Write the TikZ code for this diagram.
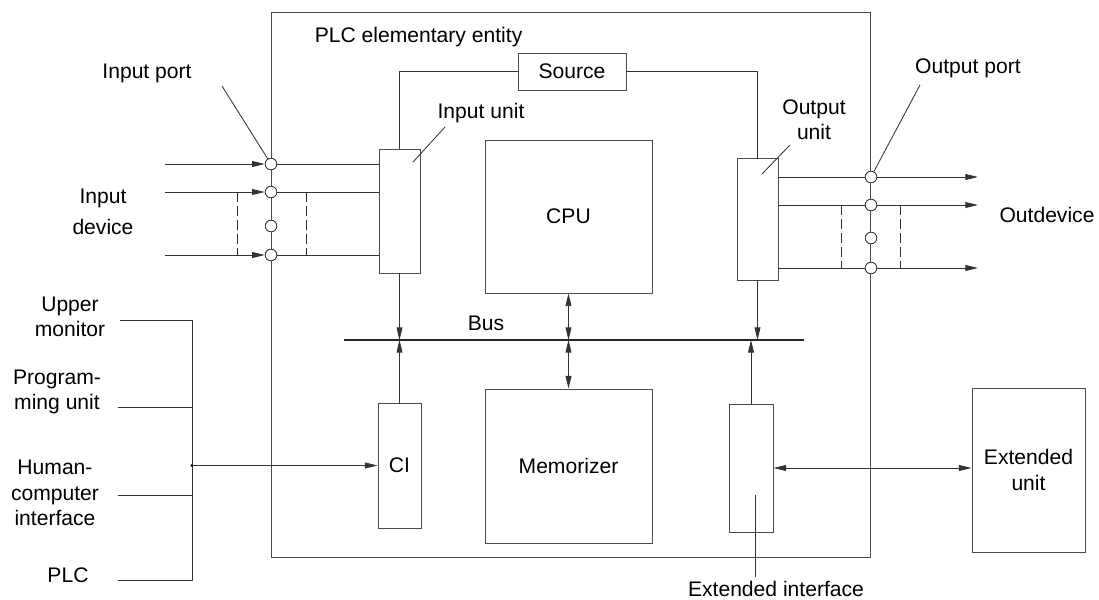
\documentclass[tikz,border=0pt]{standalone}
\usepackage{fontspec}
\setmainfont{Liberation Sans}
\usetikzlibrary{arrows.meta,positioning}

\begin{document}
\begin{tikzpicture}[x=0.025cm,y=-0.025cm,>={Triangle[length=9pt,width=4.2pt]},
line width=0.6pt,draw=black!80,
font=\fontsize{15}{18}\selectfont,
box/.style 2 args={draw=black!70,inner sep=0pt,minimum width=#1,minimum height=#2},
port/.style={circle,draw=black!80,fill=white,inner sep=0pt,minimum width=0.29cm,minimum height=0.26cm},
lbl/.style={align=center,inner sep=1pt},
guide/.style={dashed,dash pattern=on 7pt off 3pt}]
\useasboundingbox (0,0) rectangle (1099,599);

% PLC elementary entity
\node[box={14.975cm}{13.625cm}] (plc) at (570.5,284.5) {};
\node[lbl,anchor=west] (plcl) at (313,37) {PLC elementary entity};

% units inside
\node[box={2.7cm}{0.925cm}] (src) at (572,71.5) {Source};
\node[box={1.025cm}{3.1cm}] (iu) at (399.5,211) {};
\node[box={1.025cm}{3.05cm}] (ou) at (757.5,219) {};
\node[box={4.175cm}{3.825cm}] (cpu) at (568.5,216.5) {CPU};
\node[box={4.175cm}{3.85cm}] (mem) at (568.5,466) {Memorizer};
\node[box={1.075cm}{3.125cm}] (ci) at (399.5,465.5) {CI};
\node[box={1.1cm}{3.2cm}] (ei) at (751,468) {};
\node[box={2.825cm}{4.1cm},align=center] (eu) at (1028.5,470) {Extended\\unit};

% power supply
\draw (iu.north) |- (src.west);
\draw (src.east) -| (ou.north);

% bus
\coordinate (busl) at (344,340);
\coordinate (busr) at (804,340);
\draw[line width=1.4pt,black!85] (busl) -- (busr);
\node[lbl] (bus) at (486,323) {Bus};
\draw[->] (iu.south) -- (iu.south |- busl);
\draw[->] (ci.north) -- (ci.north |- busl);
\draw[<->] (cpu.south) -- (cpu.south |- busl);
\draw[<->] (cpu.south |- busl) -- (mem.north);
\draw[->] (ou.south) -- (ou.south |- busl);
\draw[->] (ei.north) -- (ei.north |- busl);

% input ports
\foreach \n/\y in {1/164,2/192,3/226,4/255}
  \node[port] (in\n) at (271,\y) {};
\foreach \n in {1,2,4}{
  \coordinate (a\n) at (165,0 |- in\n);
  \draw[->] (a\n) -- (in\n);
  \draw (in\n) -- (in\n -| iu.west);
}
\coordinate (dl1) at (237,192);
\coordinate (dl2) at (306,192);
\draw[guide] (dl1) -- (dl1 |- in4);
\draw[guide] (dl2) -- (dl2 |- in4);

% output ports
\foreach \n/\y in {1/177,2/205,3/238,4/268}
  \node[port] (out\n) at (871,\y) {};
\foreach \n in {1,2,4}{
  \coordinate (b\n) at (978,0 |- out\n);
  \draw (out\n -| ou.east) -- (out\n);
  \draw[->] (out\n) -- (b\n);
}
\coordinate (dr1) at (841,205);
\coordinate (dr2) at (900,205);
\draw[guide] (dr1) -- (dr1 |- out4);
\draw[guide] (dr2) -- (dr2 |- out4);

% labels with leaders
\node[lbl] (ipl) at (147,73) {Input port};
\coordinate (ipk) at (222,86);
\draw (ipk) -- (in1);
\node[lbl] (iul) at (481,113) {Input unit};
\coordinate (iuk1) at (445,127);
\coordinate (iuk2) at (413,162);
\draw (iuk1) -- (iuk2);
\node[lbl] (opl) at (968,68) {Output port};
\coordinate (opk) at (920,85);
\draw (opk) -- (out1);
\node[lbl] (oul) at (814,120) {Output\\unit};
\coordinate (ouk1) at (790,145);
\coordinate (ouk2) at (762,174);
\draw (ouk1) -- (ouk2);
\node[lbl] (idl) at (103,212) {Input\\[4pt]device};
\node[lbl] (odl) at (1047,215) {Outdevice};

% extended interface
\coordinate (eik1) at (755,495);
\coordinate (eik2) at (755,577);
\draw (eik1) -- (eik2);
\node[lbl] (eil) at (776,589) {Extended interface};
\draw[<->] (ei.east) -- (ei.east -| eu.west);

% external devices
\node[lbl] (um) at (70,317) {Upper\\monitor};
\node[lbl] (pu) at (57,392) {Program-\\ming unit};
\node[lbl] (hci) at (55,493) {Human-\\computer\\interface};
\node[lbl] (plcd) at (68,575) {PLC};
\coordinate (k1) at (192,320);
\coordinate (k2) at (192,407);
\coordinate (k3) at (192,495);
\coordinate (k4) at (192,580);
\draw (120,0 |- k1) -- (k1) -- (k4) -- (118,0 |- k4);
\draw (118,0 |- k2) -- (k2);
\draw (118,0 |- k3) -- (k3);
\coordinate (kc) at (192,0 |- ci.west);
\fill (kc) circle (1.2pt);
\draw[->] (kc) -- (ci.west);
\end{tikzpicture}
\end{document}
